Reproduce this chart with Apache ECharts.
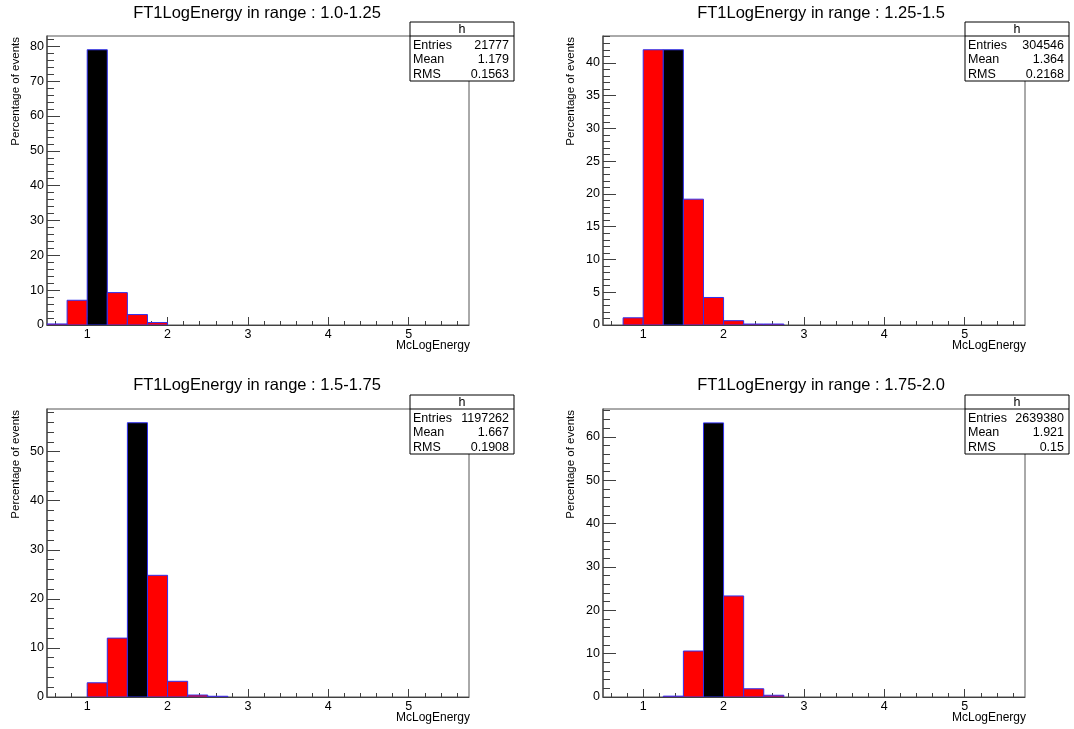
<!DOCTYPE html>
<html>
<head>
<meta charset="utf-8">
<script src="https://cdn.jsdelivr.net/npm/echarts@6/dist/echarts.min.js"></script>
<style>
html,body{margin:0;padding:0;background:#fff;}
#c{width:1074px;height:729px;}
</style>
</head>
<body>
<div id="c"></div>
<script>
// ---------------- DATA ----------------
const titles = [
  'FT1LogEnergy in range : 1.0-1.25',
  'FT1LogEnergy in range : 1.25-1.5',
  'FT1LogEnergy in range : 1.5-1.75',
  'FT1LogEnergy in range : 1.75-2.0'
];
const binLow = [0.5, 0.75, 1.0, 1.25, 1.5, 1.75, 2.0, 2.25, 2.5];
const binWidth = 0.25;
const pct_1_0_1_25  = [0.3, 7.1, 79.0, 9.3, 3.0, 0.7, 0, 0, 0];
const pct_1_25_1_5  = [0, 1.1, 42.0, 42.0, 19.2, 4.2, 0.66, 0.15, 0.15];
const pct_1_5_1_75  = [0, 0, 2.9, 12.0, 55.9, 24.8, 3.2, 0.4, 0.15];
const pct_1_75_2_0  = [0, 0, 0, 0.2, 10.6, 63.2, 23.3, 1.9, 0.4];
const inRangeLow = [1.0, 1.25, 1.5, 1.75];
const yMax = [82.95, 44.1, 58.7, 66.4];
const xTicks = [1, 2, 3, 4, 5];
const yTicks1 = [0, 10, 20, 30, 40, 50, 60, 70, 80];
const yTicks2 = [0, 5, 10, 15, 20, 25, 30, 35, 40];
const yTicks3 = [0, 10, 20, 30, 40, 50];
const yTicks4 = [0, 10, 20, 30, 40, 50, 60];
const yMinorStep = [2, 1, 2, 2];
const xMin = 0.5, xMax = 5.75, xMinorStep = 0.2;
const statsName = 'h';
const entries = ['21777', '304546', '1197262', '2639380'];
const means = ['1.179', '1.364', '1.667', '1.921'];
const rmsVals = ['0.1563', '0.2168', '0.1908', '0.15'];
const xTitle = 'McLogEnergy';
const yTitle = 'Percentage of events';

// ---------------- LAYOUT ----------------
const series = [pct_1_0_1_25, pct_1_25_1_5, pct_1_5_1_75, pct_1_75_2_0];
const yTicks = [yTicks1, yTicks2, yTicks3, yTicks4];
const FONT = '"Liberation Sans", Arial, Helvetica, sans-serif';
const L = [
  {left: 47, top: 36, width: 422, height: 289, tx: 252, ty: 0, ytx: 16, box: [410, 22]},
  {left: 603, top: 36, width: 422, height: 289, tx: 816, ty: 0, ytx: 571, box: [965, 22]},
  {left: 47, top: 409, width: 422, height: 288, tx: 252, ty: 372, ytx: 16, box: [410, 395]},
  {left: 603, top: 409, width: 422, height: 288, tx: 816, ty: 372, ytx: 571, box: [965, 395]}
];
const AX = '#404040';

function range(a, b, s) {
  const out = [];
  for (let v = a; v <= b + 1e-9; v += s) out.push(Math.round(v * 1000) / 1000);
  return out;
}

const grid = [], xAxis = [], yAxis = [], ser = [], title = [], graphic = [];
L.forEach((p, i) => {
  grid.push({left: p.left, top: p.top, width: p.width, height: p.height, show: true,
             borderColor: '#555', borderWidth: 1, backgroundColor: '#fff'});
  xAxis.push({type: 'value', gridIndex: i, min: xMin, max: xMax, position: 'bottom',
    axisLine: {show: true, onZero: false, lineStyle: {color: AX, width: 1}},
    axisTick: {show: true, inside: true, length: 8, customValues: xTicks, lineStyle: {color: AX}},
    axisLabel: {show: true, customValues: xTicks, margin: 3, fontSize: 12.5, color: '#000', fontFamily: FONT},
    splitLine: {show: false}
  });
  const xm = range(0.6, 5.6, xMinorStep).filter(v => Math.abs(v - Math.round(v)) > 1e-6);
  xAxis.push({type: 'value', gridIndex: i, min: xMin, max: xMax, position: 'bottom',
    axisLine: {show: false, onZero: false},
    axisTick: {show: true, inside: true, length: 4, customValues: xm, lineStyle: {color: AX}},
    axisLabel: {show: false}, splitLine: {show: false}
  });
  const yt = yTicks[i];
  yAxis.push({type: 'value', gridIndex: i, min: 0, max: yMax[i], position: 'left',
    axisLine: {show: true, onZero: false, lineStyle: {color: '#555', width: 1.5}},
    axisTick: {show: true, inside: true, length: 13, customValues: yt, lineStyle: {color: AX}},
    axisLabel: {show: true, customValues: yt, margin: 3, fontSize: 12.5, color: '#000', fontFamily: FONT},
    splitLine: {show: false}
  });
  const ym = range(0, yMax[i], yMinorStep[i]).filter(v => yt.indexOf(v) < 0);
  yAxis.push({type: 'value', gridIndex: i, min: 0, max: yMax[i], position: 'left',
    axisLine: {show: false, onZero: false},
    axisTick: {show: true, inside: true, length: 7, customValues: ym, lineStyle: {color: AX}},
    axisLabel: {show: false}, splitLine: {show: false}
  });
  const data = binLow.map((lo, k) => [lo, lo + binWidth, series[i][k], Math.abs(lo - inRangeLow[i]) < 1e-9 ? 1 : 0]);
  ser.push({
    type: 'custom', xAxisIndex: 2 * i, yAxisIndex: 2 * i, data: data, silent: true, clip: true,
    renderItem: function (params, api) {
      const v = api.value(2);
      if (!v) return null;
      const a = api.coord([api.value(0), 0]);
      const b = api.coord([api.value(1), v]);
      return {type: 'rect',
        shape: {x: a[0], y: b[1], width: b[0] - a[0], height: a[1] - b[1]},
        style: {fill: api.value(3) ? '#000000' : '#ff0000', stroke: '#3030ee', lineWidth: 1}};
    }
  });
  title.push({text: titles[i], left: p.tx, top: p.ty, textAlign: 'center',
    textStyle: {fontSize: 16.5, fontWeight: 'normal', color: '#000', fontFamily: FONT}});
  graphic.push({type: 'text', x: p.ytx, y: p.top + 1, rotation: Math.PI / 2,
    style: {text: yTitle, align: 'right', verticalAlign: 'middle', fontSize: 11.5, fill: '#000', fontFamily: FONT}});
  graphic.push({type: 'text', x: p.left + p.width + 1, y: p.top + p.height + 21,
    style: {text: xTitle, align: 'right', verticalAlign: 'middle', fontSize: 12, fill: '#000', fontFamily: FONT}});
  const bx = p.box[0], by = p.box[1], bw = 104, hh = 14, bh = 59;
  const rows = [['Entries', entries[i]], ['Mean', means[i]], ['RMS', rmsVals[i]]];
  const children = [
    {type: 'rect', shape: {x: bx, y: by, width: bw, height: bh}, style: {fill: '#fff', stroke: '#000', lineWidth: 1}},
    {type: 'line', shape: {x1: bx, y1: by + hh, x2: bx + bw, y2: by + hh}, style: {stroke: '#000', lineWidth: 1}},
    {type: 'text', x: bx + bw / 2, y: by + hh / 2 + 0.5, style: {text: statsName, align: 'center', verticalAlign: 'middle', fontSize: 12.5, fill: '#000', fontFamily: FONT}}
  ];
  rows.forEach((r, k) => {
    const yy = by + hh + 9.5 + k * 14.5;
    children.push({type: 'text', x: bx + 3, y: yy, style: {text: r[0], align: 'left', verticalAlign: 'middle', fontSize: 12.5, fill: '#000', fontFamily: FONT}});
    children.push({type: 'text', x: bx + bw - 5, y: yy, style: {text: r[1], align: 'right', verticalAlign: 'middle', fontSize: 12.5, fill: '#000', fontFamily: FONT}});
  });
  graphic.push({type: 'group', children: children, z: 100});
});

const chart = echarts.init(document.getElementById('c'), null, {renderer: 'canvas'});
chart.setOption({
  animation: false,
  backgroundColor: '#fff',
  title: title,
  grid: grid,
  xAxis: xAxis,
  yAxis: yAxis,
  series: ser,
  graphic: graphic
});
</script>
</body>
</html>
